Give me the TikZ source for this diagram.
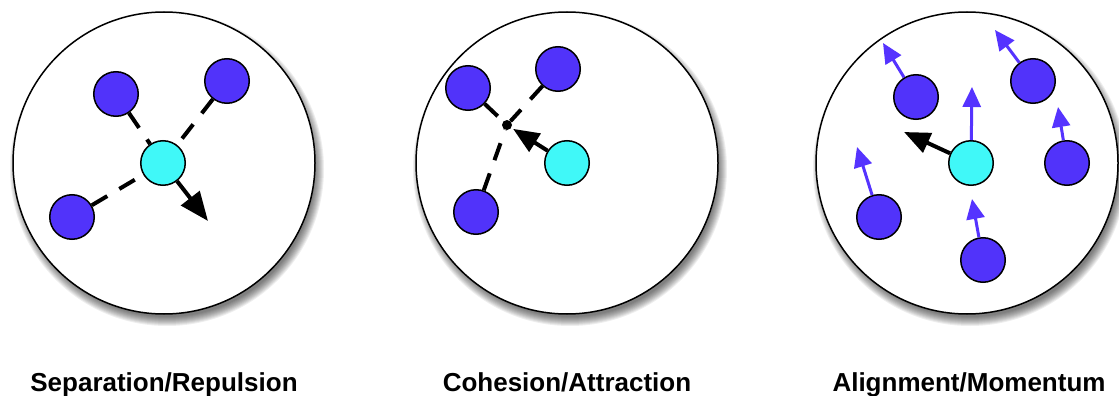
\documentclass[tikz,border=0pt]{standalone}
\usepackage{fontspec}
\setsansfont{Liberation Sans}
\usetikzlibrary{arrows.meta}
\definecolor{boidblue}{RGB}{81,51,250}
\definecolor{boidcyan}{RGB}{64,248,248}
\definecolor{arrowblue}{RGB}{85,51,255}
\pgfdeclarelayer{bg}
\pgfdeclarelayer{mid}
\pgfsetlayers{bg,mid,main}
\tikzset{
  bigc/.style={circle, draw, line width=1.5pt, fill=white, minimum size=302pt, inner sep=0pt},
  shade1/.style={fill=black, opacity=0.065},
  boid/.style={circle, draw, line width=1.5pt, fill=boidblue, minimum size=44.5pt, inner sep=0pt},
  me/.style={boid, fill=boidcyan},
  link/.style={line width=4pt, dash pattern=on 18pt off 14pt},
  push/.style={line width=4pt, -{Triangle[length=29pt,width=23pt]}},
  pull/.style={line width=4pt, -{Triangle[length=26pt,width=21pt]}},
  heading/.style={line width=3pt, draw=arrowblue, -{Triangle[length=20pt,width=18pt]}},
  lab/.style={font=\sffamily\bfseries\fontsize{26}{30}\selectfont, anchor=base, inner sep=0pt}
}
\begin{document}
\begin{tikzpicture}[x=1pt,y=-1pt]
\useasboundingbox (0,0) rectangle (1119,396);
% big circles with soft shadows
\begin{pgfonlayer}{bg}
\coordinate (s1) at (164,163);
\coordinate (s2) at (567,163);
\coordinate (s3) at (967,163);
\foreach \s in {s1,s2,s3}{
  \foreach \k in {0,...,9}{
    \fill[shade1] ([shift={(3,6)}]\s) circle[radius={(157-\k)*1pt}];
  }
}
\node[bigc] (p1) at (s1) {};
\node[bigc] (p2) at (s2) {};
\node[bigc] (p3) at (s3) {};
\end{pgfonlayer}
% Panel 1: separation
\node[boid] (a1) at (116,94) {};
\node[boid] (a2) at (227,81) {};
\node[boid] (a3) at (72,217) {};
\node[me] (ac) at (163,163) {};
\coordinate (at) at (208,221);
\begin{pgfonlayer}{mid}
\draw[link] (a1) -- (ac);
\draw[link] (a2) -- (ac);
\draw[link] (a3) -- (ac);
\end{pgfonlayer}
\draw[push] (ac) -- (at);
% Panel 2: cohesion
\node[boid] (b1) at (468,88) {};
\node[boid] (b2) at (558,69) {};
\node[boid] (b3) at (476,212) {};
\node[me] (bc) at (567,163) {};
\node[circle, fill, inner sep=0pt, minimum size=10pt] (bd) at (507,125) {};
\begin{pgfonlayer}{mid}
\draw[link] (b1) -- (bd);
\draw[link] (b2) -- (bd);
\draw[link] (b3) -- (bd);
\end{pgfonlayer}
\draw[pull, shorten >=2pt] (bc) -- (bd);
% Panel 3: alignment
\node[boid] (c1) at (916,97) {};
\node[boid] (c2) at (1033,81) {};
\node[boid] (c3) at (1067,163) {};
\node[boid] (c4) at (879,217) {};
\node[boid] (c5) at (983,260) {};
\node[me] (cc) at (971,163) {};
\coordinate (t1) at (883,43);
\coordinate (t2) at (995,30);
\coordinate (t3) at (1058,107);
\coordinate (t4) at (857,147);
\coordinate (t5) at (972,199);
\coordinate (tc) at (972,87);
\coordinate (tb) at (904,132);
\draw[heading] (c1) -- (t1);
\draw[heading] (c2) -- (t2);
\draw[heading] (c3) -- (t3);
\draw[heading] (c4) -- (t4);
\draw[heading] (c5) -- (t5);
\draw[heading] (cc) -- (tc);
\draw[pull] (cc) -- (tb);
% labels
\node[lab] (l1) at (164,391) {Separation/Repulsion};
\node[lab] (l2) at (567,391) {Cohesion/Attraction};
\node[lab] (l3) at (969,391) {Alignment/Momentum};
\end{tikzpicture}
\end{document}
